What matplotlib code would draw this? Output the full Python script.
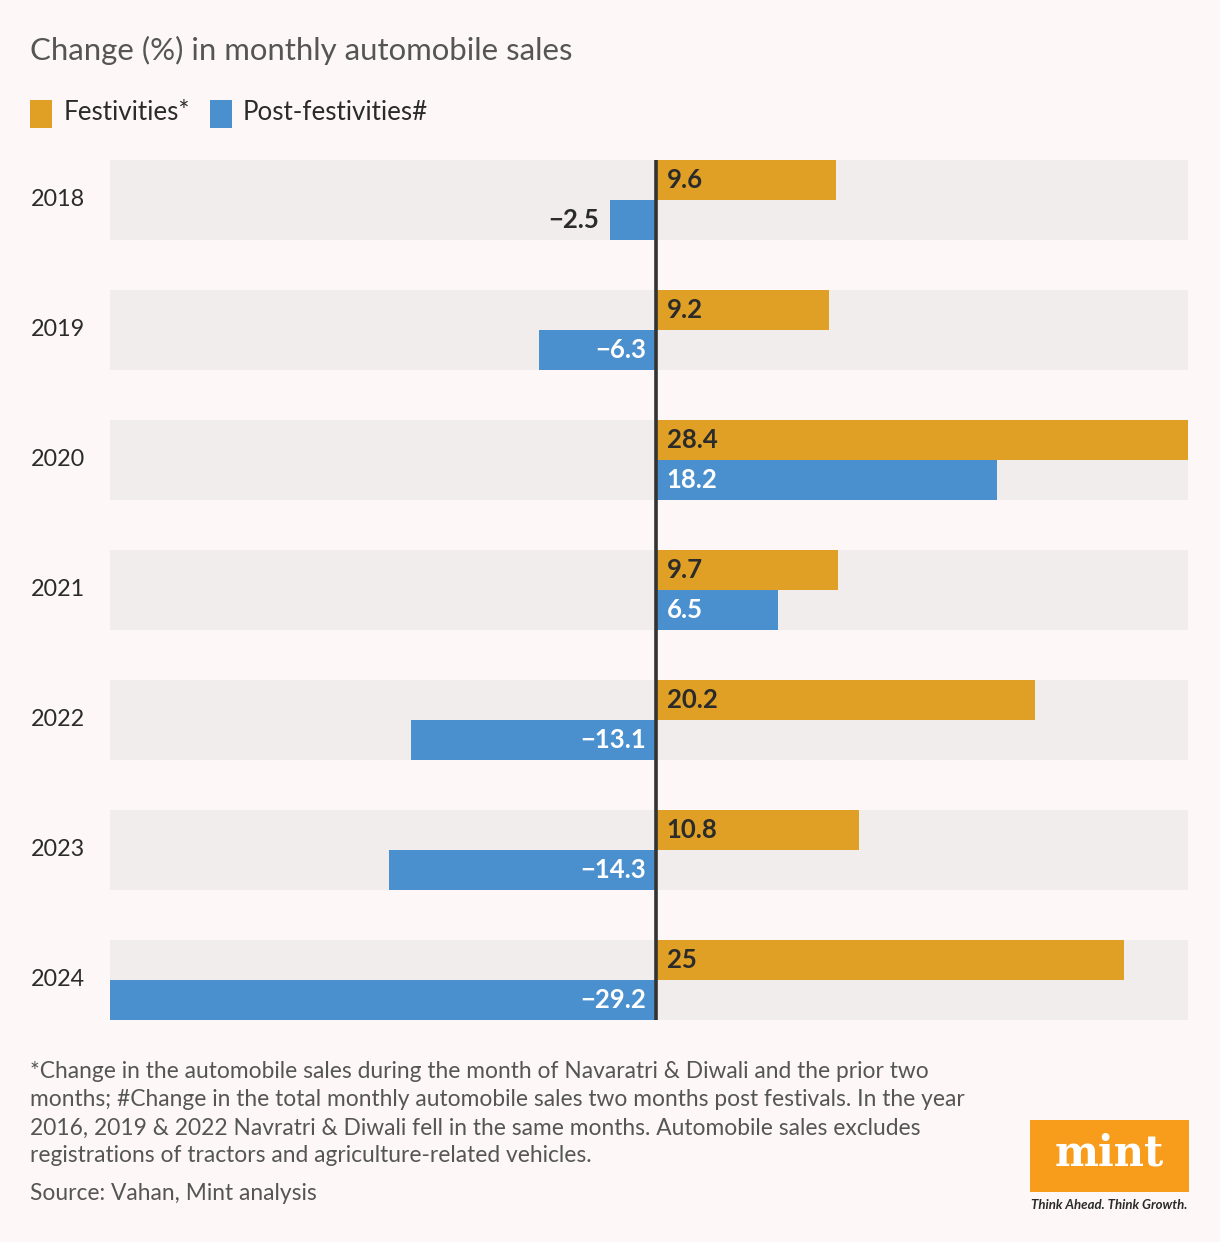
"""Change (%) in monthly automobile sales — festive vs post-festive bars."""

import matplotlib

matplotlib.use("Agg")
import matplotlib.pyplot as plt
from matplotlib.patches import Rectangle
from matplotlib.transforms import blended_transform_factory

plt.rcParams["font.family"] = ["Lato", "DejaVu Sans"]

years = ["2018", "2019", "2020", "2021", "2022", "2023", "2024"]
festive = [9.6, 9.2, 28.4, 9.7, 20.2, 10.8, 25]
post_festive = [-2.5, -6.3, 18.2, 6.5, -13.1, -14.3, -29.2]
festive_labels = ["9.6", "9.2", "28.4", "9.7", "20.2", "10.8", "25"]
post_labels = ["\u22122.5", "\u22126.3", "18.2", "6.5", "\u221213.1", "\u221214.3", "\u221229.2"]

BG = "#fdf8f7"
BAND = "#f2eded"
ORANGE = "#dfa025"
BLUE = "#4a90cf"
DARK = "#2b2b2b"
GREY_TXT = "#555555"

W, H = 1220, 1242
fig = plt.figure(figsize=(W / 100, H / 100), dpi=100, facecolor=BG)


def fx(px):
    return px / W


def fy(py):
    return 1 - py / H


ax = fig.add_axes([fx(110), fy(1020), fx(1188) - fx(110), fy(160) - fy(1020)])
ax.set_facecolor(BG)

band_h = 80 / 130
bar_h = 40 / 130
n = len(years)
xmin, xmax = min(post_festive), max(festive)

for i in range(n):
    ax.axhspan(i - band_h / 2, i + band_h / 2, color=BAND, lw=0, zorder=0)

y_f = [i - bar_h / 2 for i in range(n)]
y_p = [i + bar_h / 2 for i in range(n)]
ax.barh(y_f, festive, height=bar_h, color=ORANGE, lw=0, zorder=2)
ax.barh(y_p, post_festive, height=bar_h, color=BLUE, lw=0, zorder=2)
ax.axvline(0, color="#333333", lw=2.6, zorder=3)

ax.set_xlim(xmin, xmax)
ax.set_ylim(n - 1 + band_h / 2, -band_h / 2)
ax.axis("off")

lab_fs = 18.5
pad = 0.55
year_tr = blended_transform_factory(fig.transFigure, ax.transData)
for i in range(n):
    ax.text(pad, y_f[i], festive_labels[i], ha="left", va="center",
            fontsize=lab_fs, fontweight="bold", color=DARK, zorder=4)
    v = post_festive[i]
    if v >= 0:
        ax.text(pad, y_p[i], post_labels[i], ha="left", va="center",
                fontsize=lab_fs, fontweight="bold", color="white", zorder=4)
    elif abs(v) < 4:
        ax.text(v - pad, y_p[i], post_labels[i], ha="right", va="center",
                fontsize=lab_fs, fontweight="bold", color=DARK, zorder=4)
    else:
        ax.text(-pad, y_p[i], post_labels[i], ha="right", va="center",
                fontsize=lab_fs, fontweight="bold", color="white", zorder=4)
    ax.text(fx(58), i, years[i], transform=year_tr, ha="center",
            va="center", fontsize=16.8, color=DARK)

# title + legend
fig.text(fx(30), fy(50), "Change (%) in monthly automobile sales", ha="left",
         va="center", fontsize=22.4, color=GREY_TXT)
fig.patches.append(Rectangle((fx(30), fy(128)), fx(22), fy(100) - fy(128),
                             transform=fig.transFigure, color=ORANGE, lw=0))
fig.text(fx(64), fy(113), "Festivities*", ha="left", va="center", fontsize=18.7, color=DARK)
fig.patches.append(Rectangle((fx(210), fy(128)), fx(22), fy(100) - fy(128),
                             transform=fig.transFigure, color=BLUE, lw=0))
fig.text(fx(243), fy(113), "Post-festivities#", ha="left", va="center", fontsize=18.7, color=DARK)

# footnotes
notes = [
    "*Change in the automobile sales during the month of Navaratri & Diwali and the prior two",
    "months; #Change in the total monthly automobile sales two months post festivals. In the year",
    "2016, 2019 & 2022 Navratri & Diwali fell in the same months. Automobile sales excludes",
    "registrations of tractors and agriculture-related vehicles.",
]
for k, line in enumerate(notes):
    fig.text(fx(30), fy(1072 + 28 * k), line, ha="left", va="center",
             fontsize=16.4, color=GREY_TXT)
fig.text(fx(30), fy(1194), "Source: Vahan, Mint analysis", ha="left", va="center",
         fontsize=16.4, color=GREY_TXT)

# logo
fig.patches.append(Rectangle((fx(1030), fy(1192)), fx(1189) - fx(1030), fy(1120) - fy(1192),
                             transform=fig.transFigure, color="#f89c1c", lw=0))
fig.text(fx(1109.5), fy(1154), "mint", ha="center", va="center", fontsize=30,
         fontweight="bold", family="DejaVu Serif", color="white")
fig.text(fx(1109.5), fy(1205), "Think Ahead. Think Growth.", ha="center", va="center",
         fontsize=9.5, fontstyle="italic", fontweight="bold", color=DARK)

fig.savefig("out.png", dpi=100, facecolor=BG)
